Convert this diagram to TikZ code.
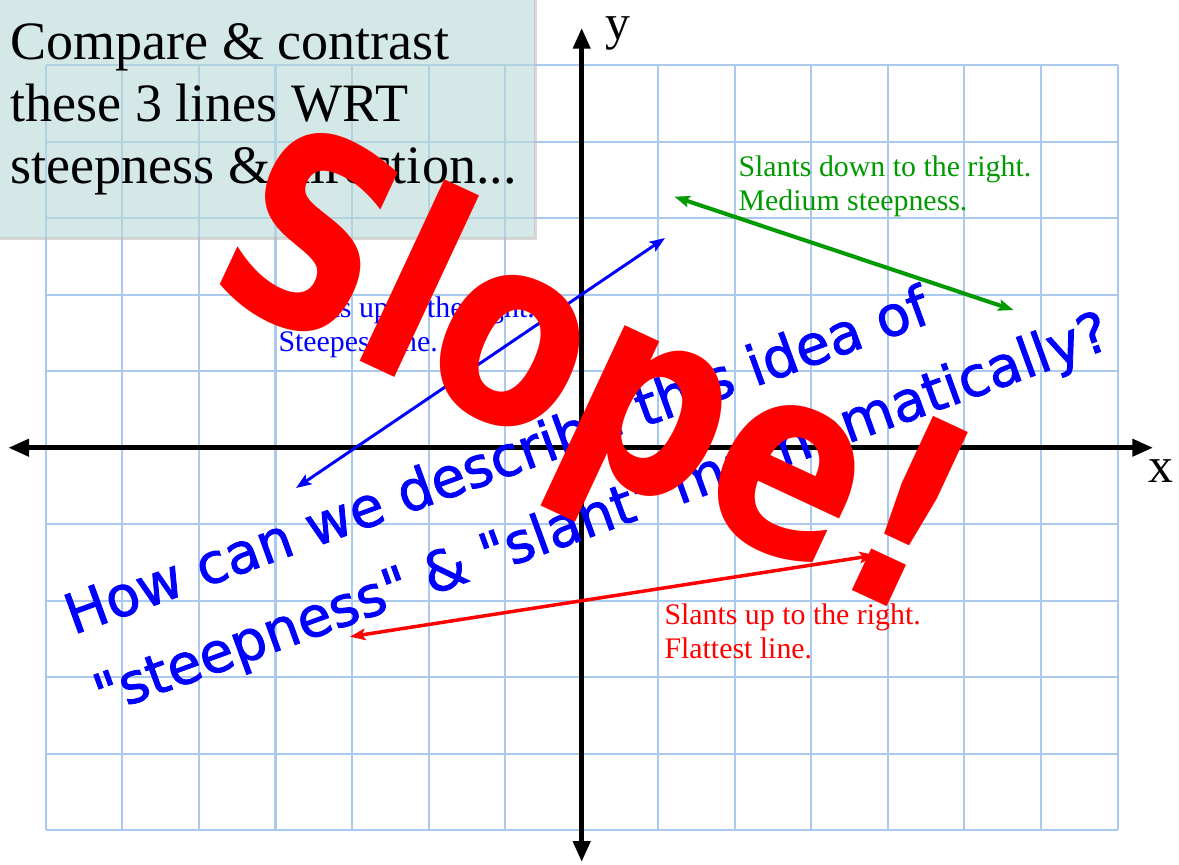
\documentclass[tikz,border=0pt]{standalone}
\usepackage{fontspec}
\setmainfont{Liberation Serif}
\newfontfamily\handfont{DejaVu Sans}[RawFeature={embolden=1.5}]
\newfontfamily\slopefont{DejaVu Sans}
\usetikzlibrary{arrows.meta}
\definecolor{SPgrid}{HTML}{A9C9EE}
\definecolor{SPbox}{HTML}{B9D9D9}
\definecolor{SPedge}{HTML}{BEBEBE}
\definecolor{SPblue}{HTML}{0000FF}
\definecolor{SPgreen}{HTML}{009A00}
\definecolor{SPred}{HTML}{FF0000}
\tikzset{
  spgrid/.style={draw=SPgrid, line width=0.75pt},
  spbox/.style={fill=SPbox, draw=SPedge, line width=1.1pt, opacity=0.6},
  spaxis/.style={{Triangle[length=0.27cm,width=0.22cm]}-{Triangle[length=0.27cm,width=0.22cm]},
    line width=1.7pt, draw=black},
  sparr/.style={{Stealth[length=0.2cm,width=0.15cm,inset=0.04cm]}-{Stealth[length=0.2cm,width=0.15cm,inset=0.04cm]},
    line width=1.1pt},
  sptext/.style={inner sep=0pt, align=left, anchor=base west},
  sptitle/.style={sptext, font=\fontsize{20.1}{22.9}\selectfont},
  spaxlbl/.style={sptext, font=\fontsize{18.5}{22}\selectfont},
  spnote/.style={sptext, font=\fontsize{11.1}{12.6}\selectfont},
  sphand/.style={sptext, text=SPblue, rotate=20, font=\handfont\fontsize{20.6}{31.6}\selectfont},
  spbig/.style={sptext, text=SPred, rotate=-25, xscale=0.83, font=\slopefont\bfseries\fontsize{98}{98}\selectfont},
}
\begin{document}
\begin{tikzpicture}[x=1cm,y=1cm]
  \useasboundingbox (-7.599,-5.451) rectangle (7.803,5.849);
  \draw[spgrid] (-7,-5) grid (7,5);
  % question box (nodes sit on their last baseline)
  \draw[spbox] (-7.75,6.0) rectangle (-0.6035,2.737);
  \node[sptitle] (title) at (-7.468,3.458) {Compare \& contrast\\these 3 lines WRT\\steepness \& direction...};
  % axes
  \coordinate (xL) at (-7.49,0); \coordinate (xR) at (7.463,0);
  \coordinate (yB) at (0,-5.41); \coordinate (yT) at (0,5.483);
  \draw[spaxis] (xL)--(xR); \draw[spaxis] (yB)--(yT);
  \node[spaxlbl] (xlbl) at (7.398,-0.46) {x};
  \node[spaxlbl] (ylbl) at (0.304,5.33) {y};
  % three lines and their notes
  \node[spnote, text=SPblue] (steep) at (-3.967,1.254) {Slants up to the right.\\Steepest line.};
  \node[spnote, text=SPgreen] (medium) at (2.042,3.105) {Slants down to the right.\\Medium steepness.};
  \node[spnote, text=SPred] (flat) at (1.075,-2.751) {Slants up to the right.\\Flattest line.};
  \coordinate (bA) at (-3.732,-0.526); \coordinate (bB) at (1.088,2.739);
  \coordinate (gA) at (1.212,3.279); \coordinate (gB) at (5.641,1.799);
  \coordinate (rA) at (-3.027,-2.469); \coordinate (rB) at (3.831,-1.404);
  \draw[sparr, draw=SPblue] (bA)--(bB);
  \draw[sparr, draw=SPgreen, line width=1.5pt] (gA)--(gB);
  \draw[sparr, draw=SPred, line width=1.3pt] (rA)--(rB);
  % handwriting on top
  \node[sphand] (question) at (-6.266,-3.492) {How can we describe this idea of\\"steepness" \& "slant" mathematically?};
  \node[spbig] (slope) at (-4.985,2.109) {Slope!};
\end{tikzpicture}
\end{document}
